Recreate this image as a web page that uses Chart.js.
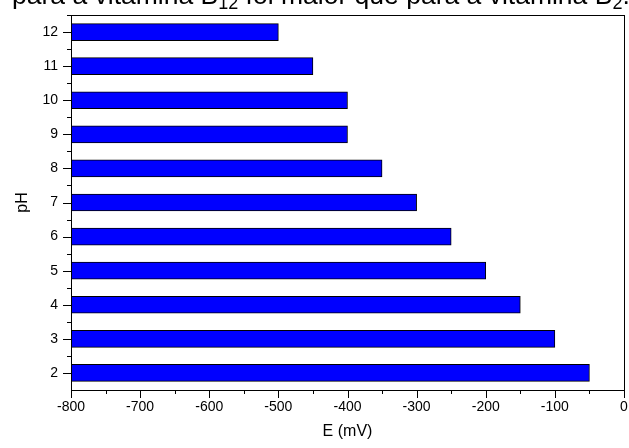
<!DOCTYPE html>
<html>
<head>
<meta charset="utf-8">
<script src="https://cdn.jsdelivr.net/npm/chart.js@4.4.1/dist/chart.umd.min.js"></script>
<style>
  body { margin: 0; background: #fff; overflow: hidden; }
  #wrap { position: relative; width: 629px; height: 448px; overflow: hidden; }
  #caption {
    position: absolute; left: 12px; top: -18px;
    font-family: Arial, "Liberation Sans", sans-serif; font-size: 26.5px; line-height: 26px;
    white-space: nowrap; color: #000;
  }
  #caption sub { font-size: 18px; line-height: 0; vertical-align: -5px; }
  canvas { position: absolute; left: 0; top: 0; }
</style>
</head>
<body>
<div id="wrap">
  <canvas id="chart" width="629" height="448"></canvas>
  <div id="caption">para a vitamina B<sub>12</sub> foi maior que para a vitamina B<sub>2</sub>.</div>
</div>
<script>
// pH values and reduction potentials (mV)
var phValues = [12, 11, 10, 9, 8, 7, 6, 5, 4, 3, 2];
var potentials = [-500, -450, -400, -400, -350, -300, -250, -200, -150, -100, -50];
var barStart = -800;
var xTicks = [-800, -700, -600, -500, -400, -300, -200, -100, 0];

var fontFamily = 'Arial, "Liberation Sans", sans-serif';

var bars = [];
for (var i = 0; i < phValues.length; i++) {
    bars.push({ y: phValues[i], x: [barStart, potentials[i]] });
}

// box around plot + outward Origin-style ticks
var framePlugin = {
    id: 'frame',
    afterDraw: function(chart) {
        var ctx = chart.ctx;
        var a = chart.chartArea;
        var xs = chart.scales.x, ys = chart.scales.y;
        ctx.save();
        ctx.strokeStyle = '#000';
        ctx.lineWidth = 1;
        ctx.strokeRect(Math.round(a.left) + 0.5, Math.round(a.top) + 0.5,
                       Math.round(a.right - a.left), Math.round(a.bottom - a.top));
        ctx.beginPath();
        for (var v = -800; v <= 0; v += 50) {
            var px = Math.round(xs.getPixelForValue(v)) + 0.5;
            var len = (v % 100 === 0) ? 8 : 4;
            ctx.moveTo(px, a.bottom);
            ctx.lineTo(px, a.bottom + len);
        }
        for (var p = 2; p <= 12.5; p += 0.5) {
            var py = Math.round(ys.getPixelForValue(p)) + 0.5;
            var l = (p % 1 === 0) ? 8 : 4;
            ctx.moveTo(a.left, py);
            ctx.lineTo(a.left - l, py);
        }
        ctx.stroke();
        ctx.restore();
    }
};

var ctx = document.getElementById('chart').getContext('2d');
window.phChart = new Chart(ctx, {
    type: 'bar',
    data: {
        datasets: [{
            data: bars,
            backgroundColor: '#0000ff',
            borderColor: '#000000',
            borderWidth: 1,
            borderSkipped: false,
            barThickness: 17
        }]
    },
    options: {
        indexAxis: 'y',
        responsive: false,
        animation: false,
        layout: { padding: { top: 15, right: 5, left: 0, bottom: 0 } },
        plugins: { legend: { display: false }, tooltip: { enabled: false } },
        scales: {
            x: {
                type: 'linear',
                min: -800,
                max: 0,
                offset: false,
                afterBuildTicks: function(scale) {
                    scale.ticks = xTicks.map(function(v) { return { value: v }; });
                },
                afterFit: function(scale) {
                    scale.height = 58;
                    scale.paddingLeft = 0;
                    scale.paddingRight = 0;
                },
                grid: { display: false, drawTicks: false },
                border: { display: false },
                ticks: {
                    padding: 9,
                    color: '#000',
                    maxRotation: 0,
                    font: { family: fontFamily, size: 14 }
                },
                title: {
                    display: true,
                    text: 'E (mV)',
                    color: '#000',
                    padding: { top: 3, bottom: 7 },
                    font: { family: fontFamily, size: 16 }
                }
            },
            y: {
                type: 'linear',
                min: 1.5,
                max: 12.5,
                offset: false,
                afterBuildTicks: function(scale) {
                    scale.ticks = phValues.map(function(v) { return { value: v }; });
                },
                afterFit: function(scale) {
                    scale.width = 71;
                    scale.paddingTop = 0;
                    scale.paddingBottom = 0;
                },
                grid: { display: false, drawTicks: false, offset: false },
                border: { display: false },
                ticks: {
                    padding: 13,
                    color: '#000',
                    font: { family: fontFamily, size: 14 }
                },
                title: {
                    display: true,
                    text: 'pH',
                    color: '#000',
                    padding: { top: 13, bottom: 0 },
                    font: { family: fontFamily, size: 16 }
                }
            }
        }
    },
    plugins: [framePlugin]
});
</script>
</body>
</html>
